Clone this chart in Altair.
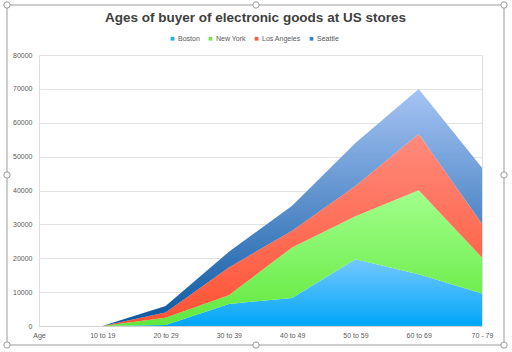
import altair as alt
import pandas as pd

ages = ["Age", "10 to 19", "20 to 29", "30 to 39", "40 to 49", "50 to 59", "60 to 69", "70 - 79"]
series = ["Boston", "New York", "Los Angeles", "Seattle"]
boston = [0, 0, 300, 6500, 8300, 19700, 15300, 9600]
new_york = [0, 0, 2100, 2600, 14900, 12700, 24800, 10600]
los_angeles = [0, 0, 1600, 8200, 4900, 8900, 16600, 10000]
seattle = [0, 0, 1900, 4600, 7400, 12700, 13300, 16500]
y_ticks = [0, 10000, 20000, 30000, 40000, 50000, 60000, 70000, 80000]

legend_colors = ["#1aaef5", "#6fe84c", "#ff5a45", "#3c7fd0"]
grad_top = ["#74c8ff", "#a2ff8c", "#ff8a7c", "#a6c4f4"]
grad_bottom = ["#00a6f6", "#60e83c", "#ff5232", "#0a57a0"]

values = [boston, new_york, los_angeles, seattle]
rows = []
for si, (name, vals) in enumerate(zip(series, values)):
    for a, v in zip(ages, vals):
        rows.append({"age": a, "series": name, "order": si, "value": v})
df = pd.DataFrame(rows)

x_enc = alt.X("age:N", sort=ages, title=None,
              scale=alt.Scale(type="point", padding=0),
              axis=alt.Axis(labelAngle=0, ticks=False, domain=True, domainColor="#d0d0d0",
                            labelColor="#595959", labelFontSize=7, labelFont="Liberation Sans",
                            labelPadding=5, grid=False))
y_scale = alt.Scale(domain=[0, 80000])
y_axis = alt.Axis(values=y_ticks, domain=False, ticks=False, labelOverlap=False,
                  labelColor="#595959", labelFontSize=7, labelFont="Liberation Sans",
                  labelPadding=7, gridColor="#e2e2e2", format="d")

base = alt.Chart(df).transform_stack(
    stack="value", groupby=["age"], sort=[alt.SortField("order")], as_=["v0", "v1"]
)

layers = []
for i, name in enumerate(series):
    grad = alt.Gradient(
        gradient="linear",
        stops=[alt.GradientStop(color=grad_top[i], offset=0),
               alt.GradientStop(color=grad_bottom[i], offset=1)],
        x1=1, x2=1, y1=0, y2=1,
    )
    layer = base.transform_filter(alt.datum.series == name).mark_area(
        color=grad, line=False, interpolate="linear"
    ).encode(
        x=x_enc,
        y=alt.Y("v1:Q", scale=y_scale, title=None, axis=y_axis),
        y2="v0:Q",
    )
    layers.append(layer)

legend_layer = base.mark_square(opacity=0, size=10).encode(
    x=x_enc,
    y=alt.Y("v1:Q", scale=y_scale, title=None, axis=y_axis),
    color=alt.Color("series:N", sort=series,
                    scale=alt.Scale(domain=series, range=legend_colors),
                    legend=alt.Legend(title=None, orient="none", direction="horizontal",
                                      legendX=130, legendY=-20, symbolType="square",
                                      symbolSize=14, symbolOpacity=1, labelFontSize=7,
                                      labelColor="#595959", labelFont="Liberation Sans",
                                      columnPadding=7, symbolOffset=0, labelOffset=2)),
)

# selection frame around the chart (plot origin is at 39, 55)
frame = alt.Chart(df.head(1)).mark_rect(fill=None, stroke="#bdbdbd", strokeWidth=1.5).encode(
    x=alt.value(7 - 39), x2=alt.value(504 - 39), y=alt.value(5 - 55), y2=alt.value(345 - 55)
)
handles = []
for hx in (7, 256, 504):
    for hy in (5, 175, 345):
        if hx == 256 and hy == 175:
            continue
        handles.append(
            alt.Chart(df.head(1)).mark_point(shape="circle", size=40, filled=True, fill="white",
                                             stroke="#9a9a9a", strokeWidth=1, opacity=1).encode(
                x=alt.value(hx - 39), y=alt.value(hy - 55)
            )
        )

chart = alt.layer(*layers, legend_layer, frame, *handles).properties(
    width=443, height=271,
    title=alt.TitleParams("Ages of buyer of electronic goods at US stores",
                          fontSize=13.5, font="Liberation Sans", fontWeight="bold",
                          color="#404040", offset=8, anchor="middle", frame="group",
                          dx=-5, dy=33),
    autosize=alt.AutoSizeParams(type="none"),
    padding={"left": 39, "top": 55, "right": 30, "bottom": 26},
).configure_view(stroke=None).configure(background="white")

chart.save("out.html", embed_options={"renderer": "svg", "actions": False})
